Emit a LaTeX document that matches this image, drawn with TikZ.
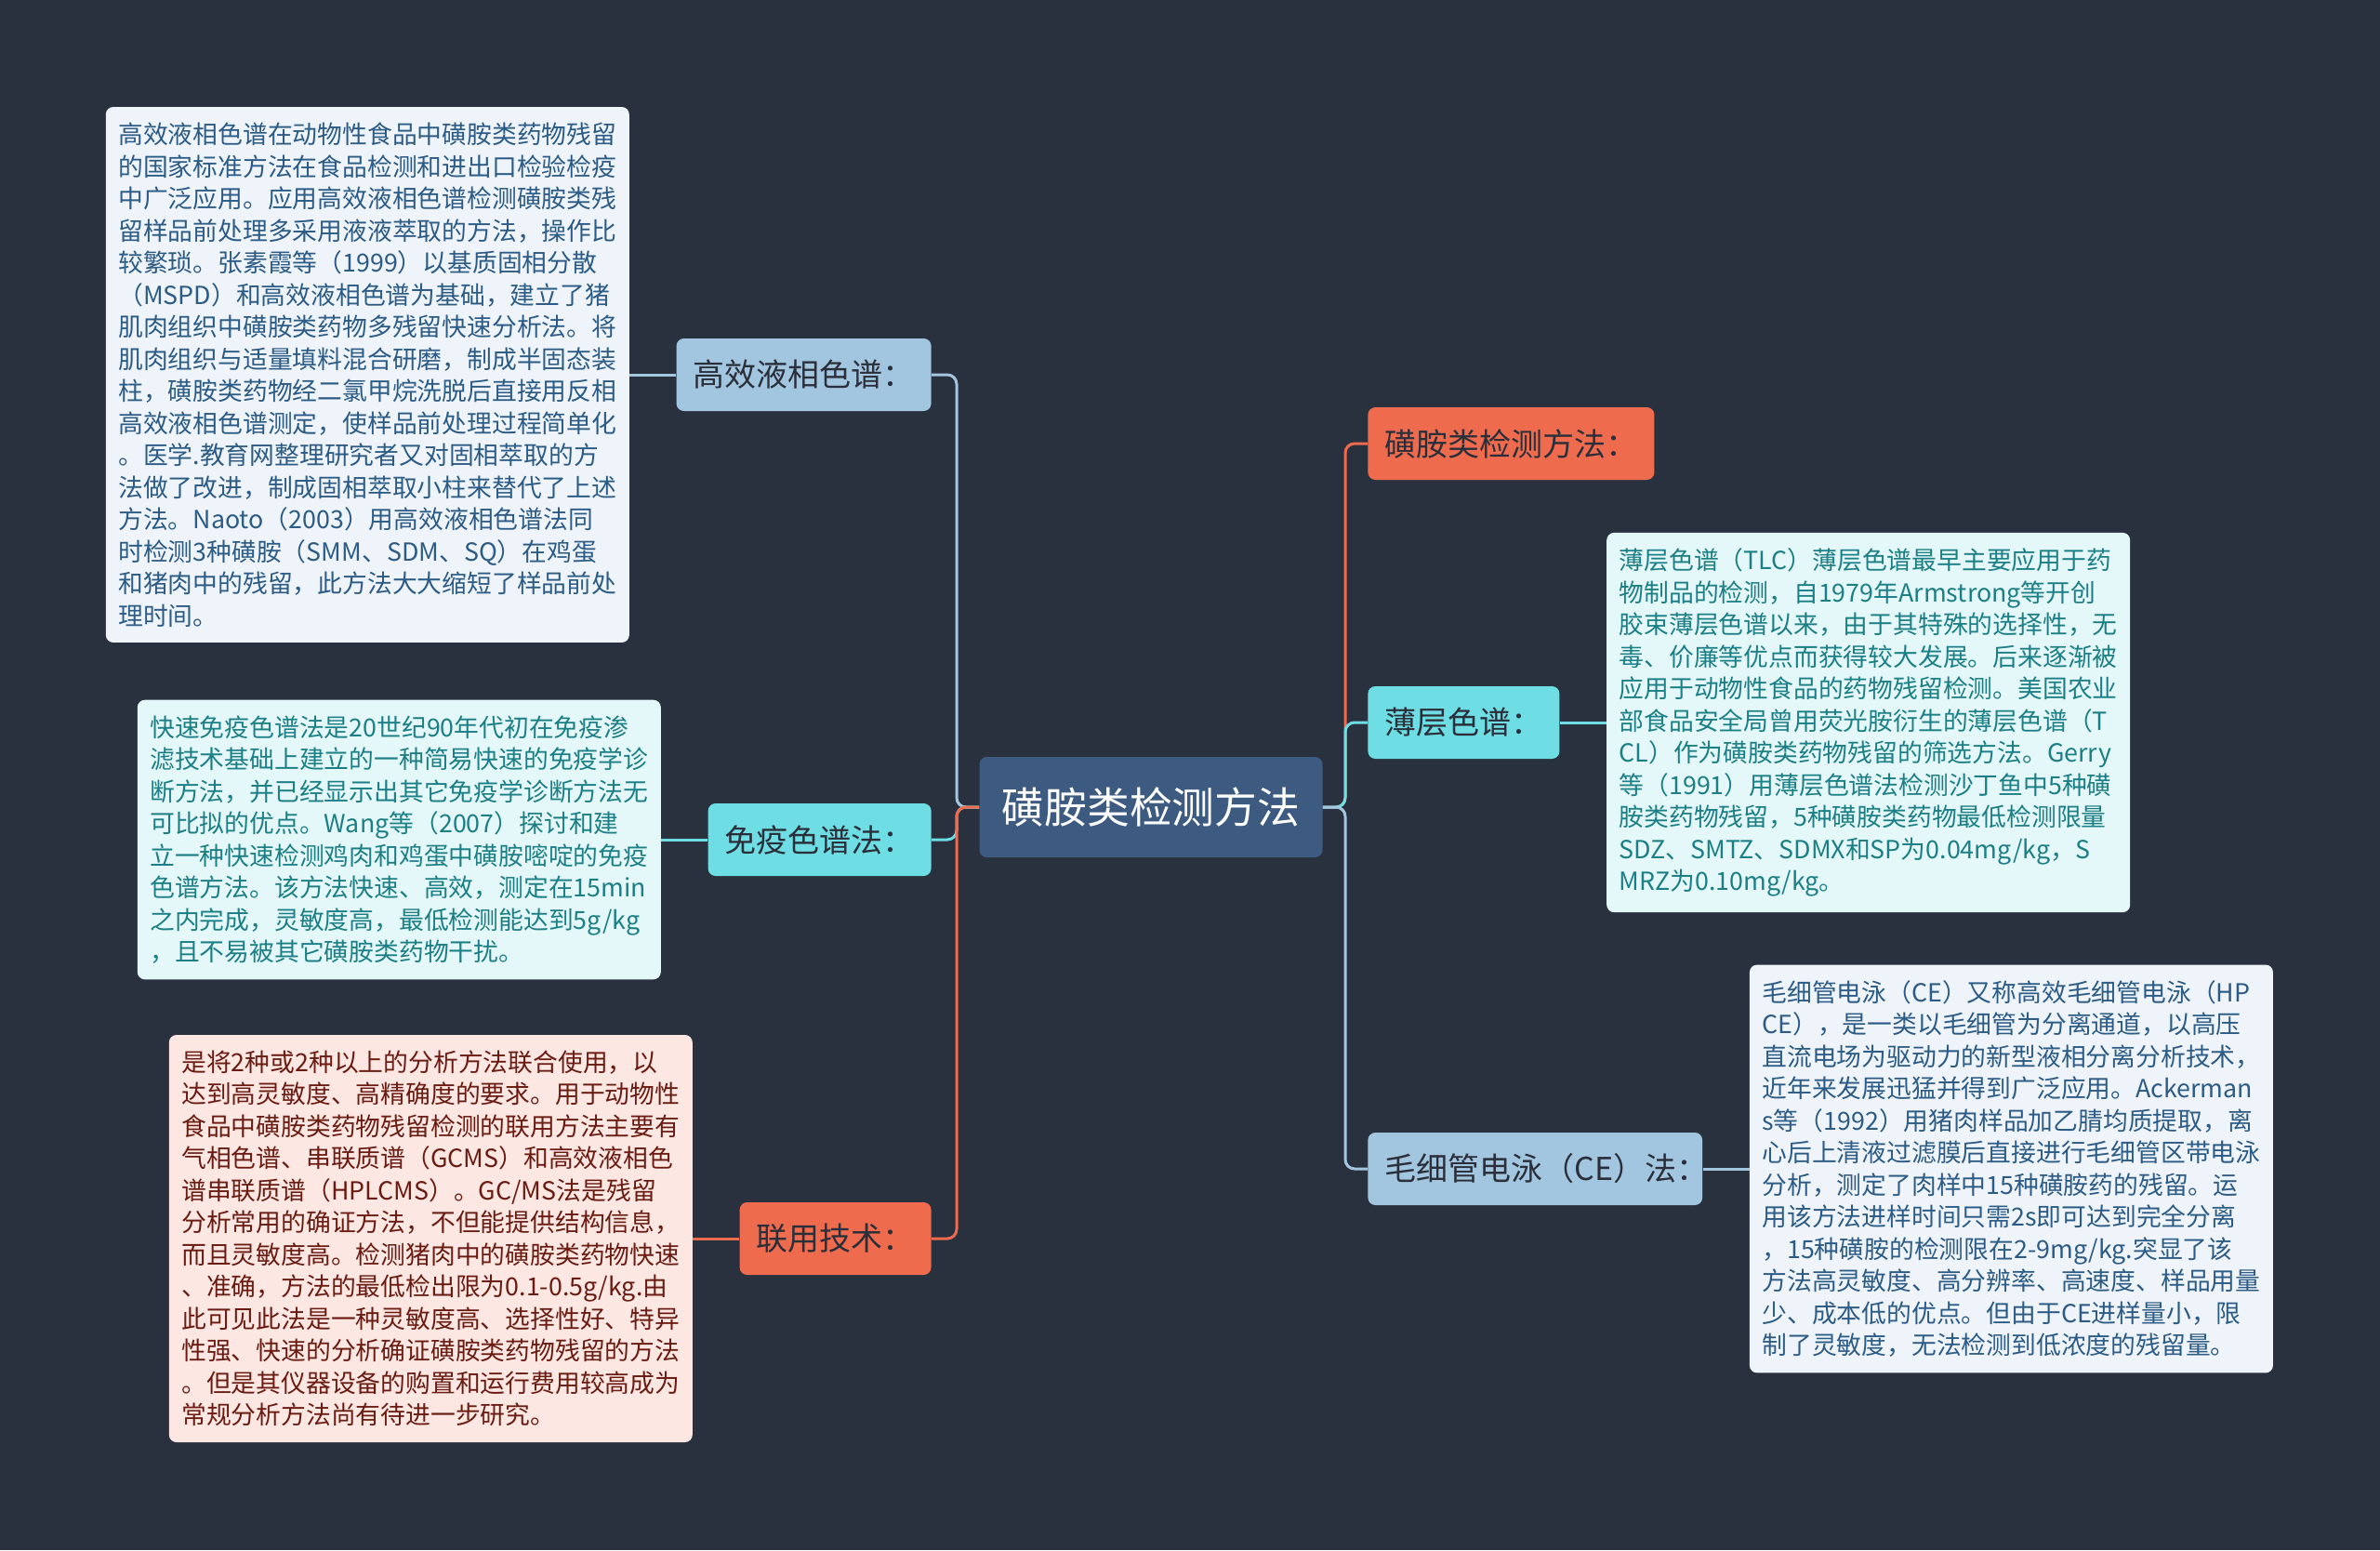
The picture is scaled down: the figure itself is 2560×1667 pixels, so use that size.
\documentclass[tikz,border=0pt]{standalone}
\usepackage{fontspec}
\setmainfont{Noto Sans CJK SC}
\usepackage{xcolor}
\usepackage{tikz}
\usetikzlibrary{positioning}
\definecolor{bgcol}{HTML}{29313F}
\definecolor{rootcol}{HTML}{3D5A80}
\definecolor{bluecol}{HTML}{A3C6E0}
\definecolor{cyancol}{HTML}{6EDDE4}
\definecolor{orangecol}{HTML}{EE6B4E}
\definecolor{nodetext}{HTML}{2B2F3A}
\definecolor{bluefill}{HTML}{EEF4F9}
\definecolor{bluetext}{HTML}{2C5B86}
\definecolor{cyanfill}{HTML}{E4F8F9}
\definecolor{cyantext}{HTML}{1C7F86}
\definecolor{orangefill}{HTML}{FCE7E2}
\definecolor{orangetext}{HTML}{6A1C13}

\begin{document}
\begin{tikzpicture}[x=0.5pt,y=-0.5pt]
    \tikzstyle{maintopic}=[rounded corners=4pt, fill=rootcol, text=white, minimum width=184.5pt, minimum height=54pt, font=\fontsize{22.9}{27}\selectfont]
    \tikzstyle{subtopic}=[rounded corners=4pt, inner xsep=9pt, minimum height=39pt, text=nodetext, font=\fontsize{17}{20}\selectfont]
    \tikzstyle{notebox}=[rounded corners=4pt, inner xsep=6.75pt, inner ysep=8.4pt, text width=268pt, align=left, font=\fontsize{13.4}{17.25}\selectfont]
    \tikzstyle{link}=[line width=1.5pt, rounded corners=5pt]
\fill[bgcol] (0,0) rectangle (2560,1667);
\useasboundingbox (0,0) rectangle (2560,1667);
\node[maintopic] (root) at (1238,868) {磺胺类检测方法};
\coordinate (ltrunk) at (1029,868);
\coordinate (rtrunk) at (1447,868);
\node[subtopic, fill=bluecol, anchor=east] (hplc) at (1002,403) {高效液相色谱：};
\node[subtopic, fill=cyancol, anchor=east] (immuno) at (1002,903) {免疫色谱法：};
\node[subtopic, fill=orangecol, anchor=east] (combo) at (1002,1332) {联用技术：};
\node[subtopic, fill=orangecol, anchor=west] (method) at (1471,477) {磺胺类检测方法：};
\node[subtopic, fill=cyancol, anchor=west] (tlc) at (1471,777) {薄层色谱：};
\node[subtopic, fill=bluecol, anchor=west] (ce) at (1471,1257) {毛细管电泳（CE）法：\hspace*{-12pt}};
\node[notebox, fill=bluefill, text=bluetext, left=25pt of hplc] (hplcnote) {
高效液相色谱在动物性食品中磺胺类药物残留\\
的国家标准方法在食品检测和进出口检验检疫\\
中广泛应用。应用高效液相色谱检测磺胺类残\\
留样品前处理多采用液液萃取的方法，操作比\\
较繁琐。张素霞等（1999）以基质固相分散\\
（MSPD）和高效液相色谱为基础，建立了猪\\
肌肉组织中磺胺类药物多残留快速分析法。将\\
肌肉组织与适量填料混合研磨，制成半固态装\\
柱，磺胺类药物经二氯甲烷洗脱后直接用反相\\
高效液相色谱测定，使样品前处理过程简单化\\
。医学.教育网整理研究者又对固相萃取的方\\
法做了改进，制成固相萃取小柱来替代了上述\\
方法。Naoto（2003）用高效液相色谱法同\\
时检测3种磺胺（SMM、SDM、SQ）在鸡蛋\\
和猪肉中的残留，此方法大大缩短了样品前处\\
理时间。};
\node[notebox, fill=cyanfill, text=cyantext, left=25pt of immuno] (immunonote) {
快速免疫色谱法是20世纪90年代初在免疫渗\\
滤技术基础上建立的一种简易快速的免疫学诊\\
断方法，并已经显示出其它免疫学诊断方法无\\
可比拟的优点。Wang等（2007）探讨和建\\
立一种快速检测鸡肉和鸡蛋中磺胺嘧啶的免疫\\
色谱方法。该方法快速、高效，测定在15min\\
之内完成，灵敏度高，最低检测能达到5g/kg\\
，且不易被其它磺胺类药物干扰。};
\node[notebox, fill=orangefill, text=orangetext, left=25pt of combo] (combonote) {
是将2种或2种以上的分析方法联合使用，以\\
达到高灵敏度、高精确度的要求。用于动物性\\
食品中磺胺类药物残留检测的联用方法主要有\\
气相色谱、串联质谱（GCMS）和高效液相色\\
谱串联质谱（HPLCMS）。GC/MS法是残留\\
分析常用的确证方法，不但能提供结构信息，\\
而且灵敏度高。检测猪肉中的磺胺类药物快速\\
、准确，方法的最低检出限为0.1-0.5g/kg.由\\
此可见此法是一种灵敏度高、选择性好、特异\\
性强、快速的分析确证磺胺类药物残留的方法\\
。但是其仪器设备的购置和运行费用较高成为\\
常规分析方法尚有待进一步研究。};
\node[notebox, fill=cyanfill, text=cyantext, right=25pt of tlc] (tlcnote) {
薄层色谱（TLC）薄层色谱最早主要应用于药\\
物制品的检测，自1979年Armstrong等开创\\
胶束薄层色谱以来，由于其特殊的选择性，无\\
毒、价廉等优点而获得较大发展。后来逐渐被\\
应用于动物性食品的药物残留检测。美国农业\\
部食品安全局曾用荧光胺衍生的薄层色谱（T\\
CL）作为磺胺类药物残留的筛选方法。Gerry\\
等（1991）用薄层色谱法检测沙丁鱼中5种磺\\
胺类药物残留，5种磺胺类药物最低检测限量\\
SDZ、SMTZ、SDMX和SP为0.04mg/kg，S\\
MRZ为0.10mg/kg。};
\node[notebox, fill=bluefill, text=bluetext, right=25pt of ce] (cenote) {
毛细管电泳（CE）又称高效毛细管电泳（HP\\
CE），是一类以毛细管为分离通道，以高压\\
直流电场为驱动力的新型液相分离分析技术，\\
近年来发展迅猛并得到广泛应用。Ackerman\\
s等（1992）用猪肉样品加乙腈均质提取，离\\
心后上清液过滤膜后直接进行毛细管区带电泳\\
分析，测定了肉样中15种磺胺药的残留。运\\
用该方法进样时间只需2s即可达到完全分离\\
，15种磺胺的检测限在2-9mg/kg.突显了该\\
方法高灵敏度、高分辨率、高速度、样品用量\\
少、成本低的优点。但由于CE进样量小，限\\
制了灵敏度，无法检测到低浓度的残留量。};
\draw[link, bluecol] (root.west) -- (ltrunk) |- (hplc.east);
\draw[link, cyancol] (root.west) -- (ltrunk) |- (immuno.east);
\draw[link, orangecol] (root.west) -- (ltrunk) |- (combo.east);
\draw[link, orangecol] (root.east) -- (rtrunk) |- (method.west);
\draw[link, cyancol] (root.east) -- (rtrunk) |- (tlc.west);
\draw[link, bluecol] (root.east) -- (rtrunk) |- (ce.west);
\draw[link, bluecol] (hplc) -- (hplcnote);
\draw[link, cyancol] (immuno) -- (immunonote);
\draw[link, orangecol] (combo) -- (combonote);
\draw[link, cyancol] (tlc) -- (tlcnote);
\draw[link, bluecol] (ce) -- (cenote);
\end{tikzpicture}
\end{document}
